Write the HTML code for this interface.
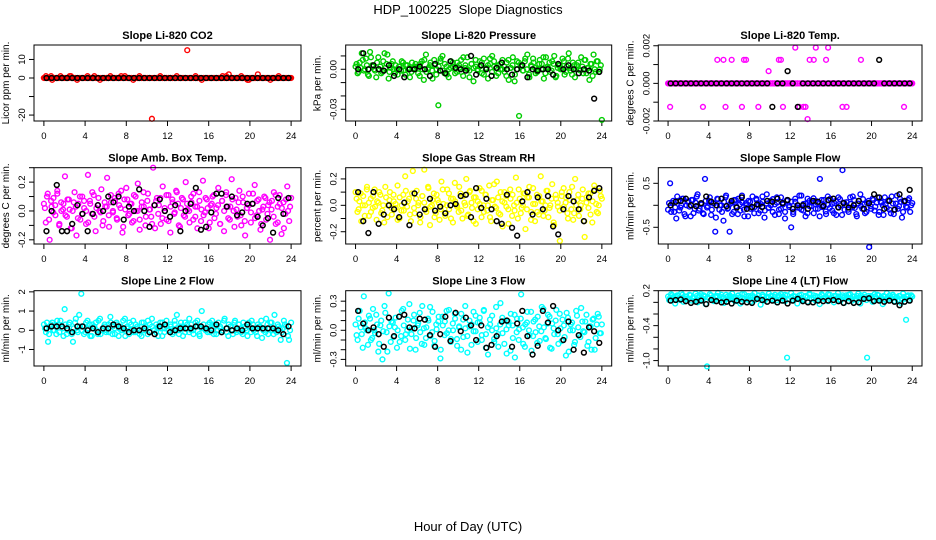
<!DOCTYPE html>
<html><head><meta charset="utf-8">
<style>
html,body{margin:0;padding:0;background:#fff;}
svg{display:block;font-family:"Liberation Sans",Arial,sans-serif;}
</style></head>
<body>
<svg id="chart" width="936" height="540" viewBox="0 0 936 540">
<text x="468" y="14" text-anchor="middle" font-size="13">HDP_100225&#160; Slope Diagnostics</text>
<text x="468" y="531" text-anchor="middle" font-size="13">Hour of Day (UTC)</text>
</svg>
<script>
// ---- data (values in panel-specific units; scale applied below) ----
const xTicks = [0,4,8,12,16,20,24];
const co2Vals = [0,1,0,0,-1,0,0,0,1,0, 0,0,0,1,0,0,-1,0,0,0, 0,1,0,0,0,0,0,-1,0,0, 0,0,1,0,0,0,0,0,0,1, 0,0,0,-1,0,0,1,0,0,0, 0,0,-22,0,0,0,1,0,0,0, 0,0,0,0,0,0,0,0,0,15, 0,0,0,1,0,0,-1,0,0,0, 0,0,0,0,0,0,1,0,0,2, 0,0,0,0,0,1,0,0,-1,0, 0,0,0,2,0,0,0,0,0,-1, 0,0,0,1,0,0,0,0,0,0];
const co2Vals2 = [0,0,0,1,0,0,0,0,0,0, 0,0,1,0,0,0,0,0,0,0, 0,0,0,0,1,0,0,0,0,0, 0,0,0,0,0,0,0,1,0,0, 0,0,0,0,0,0,0,0,0,0, 0,0,0,0,0,0,0,0,0,0, 0,0,0,0,1,0,0,0,0,0, 0,0,0,0,0,0,0,0,0,0, 0,0,0,0,0,0,0,0,1,0, 0,0,0,0,0,0,0,0,0,-1, 0,0,0,0,0,0,0,0,0,0, 0,0,0,0,0,0,0,0,0,0];
const co2Black = [0,0,0,0,0,0,0,0,0,0,0,0,0,0,0,0,0,0,0,0,0,0,0,0,0,0,0,0,0,0,0,0,0,0,0,0,0,0,0,0,0,0,0,0,0,0,0,0];
const presVals = [2,-3,5,12,-1,8,-4,13,3,0, -6,9,2,-2,12,4,-7,1,6,-3, 0,2,-1,5,-4,3,1,-2,0,4, 2,-5,6,-8,11,0,3,-1,7,-4, -27,6,10,-3,2,-6,1,5,0,-2, 3,7,-5,1,9,-1,4,-9,2,0, 6,-3,8,1,-7,4,10,2,-5,3, 0,7,-2,5,-8,1,9,-4,6,-35, 3,-1,8,11,-6,2,5,-3,0,7, 4,-7,9,1,-2,6,10,-5,3,0, 8,-4,2,12,-1,5,-6,3,0,9, -3,7,1,-8,4,11,-2,6,0,-38];
const presVals2 = [4,-2,1,7,0,3,-5,9,2,-1, 5,0,-3,6,1,11,-2,4,0,3, -4,2,6,-1,3,0,-6,5,1,2, -3,4,0,7,-2,1,5,-7,3,0, 2,8,-1,4,-4,0,6,2,-3,5, 1,-2,9,3,0,-6,4,1,7,-1, 2,5,-4,0,3,8,-2,6,1,-3, 4,0,2,-5,7,1,3,-9,0,5, 2,-1,6,0,-4,3,8,1,-2,4, 0,9,-3,2,5,-1,4,-6,1,3, 0,6,-2,8,1,-4,3,0,5,-1, 2,7,-3,1,4,-5,0,6,-2,3];
const presBlack = [0,12,0,3,0,-1,3,-5,0,-6,0,0,2,0,-5,4,-1,-3,6,1,0,-1,10,-4,3,0,-5,1,5,0,-4,0,3,-6,0,-1,0,0,-4,4,0,3,0,-3,0,-1,-22,-2];
const tempVals = [0,-125,0,0,0,0,0,0,0,0, 0,0,0,0,0,0,0,-125,0,0, 0,0,0,0,125,0,0,125,-125,0, 0,125,0,0,0,0,-125,125,125,0, 0,0,0,0,-125,0,0,0,0,65, 0,0,0,0,125,125,-125,0,0,0, 0,0,190,0,-125,0,-125,-125,-190,125, 0,125,190,0,0,0,0,125,190,0, 0,0,0,0,0,-125,0,-125,0,0, 0,0,0,0,125,0,0,0,0,0, 0,0,0,0,0,0,0,0,0,0, 0,0,0,0,0,-125,0,0,0,0];
const tempVals2 = [0,0,0,0,0,0,0,0,0,0, 0,0,0,0,0,0,0,0,0,0, 0,0,0,0,0,0,0,0,0,0, 0,0,0,0,0,0,0,0,0,0, 0,0,0,0,0,0,0,0,0,0, 0,0,0,0,0,0,0,0,0,0, 0,0,0,0,0,0,0,0,0,0, 0,0,0,0,0,0,0,0,0,0, 0,0,0,0,0,0,0,0,0,0, 0,0,0,0,0,0,0,0,0,0, 0,0,0,0,0,0,0,0,0,0, 0,0,0,0,0,0,0,0,0,0];
const tempBlack = [0,0,0,0,0,0,0,0,0,0,0,0,0,0,0,0,0,0,0,0,-125,0,0,65,0,-125,0,0,0,0,0,0,0,0,0,0,0,0,0,0,0,125,0,0,0,0,0,0];
const ambVals = [5,-8,12,-20,3,9,-3,14,-10,6, 1,24,-4,8,-12,0,13,-17,5,-6, 10,2,-9,25,7,-2,11,-14,4,0, 15,-7,3,23,-11,6,-1,9,-5,12, 2,-15,8,16,-3,5,-8,11,0,19, -6,3,13,-10,7,1,-4,30,-12,9, 4,-9,17,2,-6,11,-15,8,-2,14, 5,-11,9,-3,20,1,-8,6,12,-4, 3,13,-7,21,-1,8,-12,4,10,-5, 2,16,-9,7,-14,11,3,-6,22,0, 9,-4,14,-10,6,-17,2,12,-8,5, 18,-3,8,-13,1,10,-6,4,-20,7, 13,-9,3,11,-16,6,-2,17,-7,9];
const ambVals2 = [2,10,-6,7,-1,4,12,-9,0,5, -3,8,1,-12,6,3,-5,10,-2,7, 0,-8,5,13,-4,2,9,-1,-10,6, 3,-3,11,0,7,-6,4,14,-11,1, 8,-2,5,-7,10,0,-13,6,3,-4, 12,1,-9,4,7,-2,9,-5,0,11, -7,3,6,-1,13,-10,2,8,-4,5, 0,10,-6,3,-12,7,1,-3,9,2, -8,5,11,-2,4,-9,7,0,13,-5, 3,8,-11,1,6,-3,10,-7,2,4, -1,12,-5,7,0,-9,3,9,-2,6, 1,-4,11,-8,5,2,-12,8,0,3];
const ambBlack = [-14,0,18,-14,-14,-9,4,-2,-14,-2,4,0,10,6,10,-6,3,0,15,0,-11,4,8,0,-4,4,-14,0,5,16,-13,-11,-1,12,12,3,10,-3,-1,5,5,-4,-10,-5,-15,9,-2,9];
const rhVals = [10,-5,3,-12,7,0,14,-8,5,-2, 12,-11,2,8,-4,-13,6,0,10,-7, 3,-2,15,-10,-4,8,22,-1,5,-12, 26,-6,11,2,-9,7,27,-3,14,-15, 0,9,-6,4,-11,18,1,-8,12,-3, 5,-13,17,0,-5,9,-10,2,20,-7, 11,-2,6,-14,3,13,-9,0,8,-4, 15,-12,4,-1,18,-6,10,-16,2,7, -3,12,-8,0,21,-10,5,-2,9,-18, 6,14,-5,1,-12,8,-7,22,3,-4, 11,-9,0,16,-15,5,-1,-27,7,13, 2,-6,10,-3,-11,20,4,-8,0,12, -24,6,-2,9,-13,15,1,-6,11,5];
const rhVals2 = [5,-3,9,0,-8,12,2,-5,7,-1, 3,10,-6,0,14,-9,4,-2,8,1, -11,6,0,-4,11,3,-7,9,-2,5, 0,-13,7,2,-5,13,-1,4,-9,8, 2,-3,12,-6,0,9,-10,5,3,-1, 14,-4,7,0,-8,10,2,-12,6,-3, 1,11,-5,8,0,-9,4,16,-2,6, -7,3,10,-1,-14,5,8,-4,2,12, -6,0,9,-3,6,-11,13,1,-5,7, 3,-8,0,11,-2,5,-13,8,2,-4, 10,-1,6,-10,4,14,-6,0,8,-3, 5,-12,2,9,-7,3,12,-5,0,7];
const rhBlack = [10,-12,-21,10,-14,-7,0,-3,-9,2,-15,9,-7,-3,5,-4,-1,-6,0,1,7,8,-9,13,-2,5,-3,-12,-14,8,-17,-23,3,10,-7,6,-3,7,-16,-22,-3,7,3,-3,-12,6,11,13];
const sampVals = [-10,50,5,-15,-30,10,-5,15,-20,0, 8,-25,12,-8,20,-12,3,-18,60,-5, 10,-22,5,-60,15,-10,0,-35,18,-8, -60,6,-15,12,-20,2,22,-10,5,-25, 8,-5,-18,15,0,-12,20,-28,4,-6, 10,-15,2,18,-20,-8,6,-30,12,0, -50,-15,8,-5,22,-10,3,-25,15,-2, 6,-18,10,-8,60,-4,12,-20,1,15, -12,5,-22,18,0,80,-10,7,-15,3, 20,-6,-25,10,-2,14,-18,5,-95,-8, 12,-3,18,-15,6,-22,2,10,-10,20, -20,4,-8,15,-28,8,-3,12,-15,5];
const sampVals2 = [5,-15,10,-5,20,-12,0,15,-25,8, -3,12,-18,6,25,-8,2,-20,10,-2, 18,-10,4,-28,14,0,-15,8,22,-6, 3,-20,12,-2,15,-12,6,-25,0,10, -8,20,-4,12,-18,3,8,-12,25,-5, 0,14,-22,6,-10,18,2,-15,10,-4, 8,-20,15,0,-6,22,-12,4,-18,10, -2,16,-8,5,-25,12,0,-14,20,-6, 3,-18,10,-4,14,-22,6,0,-10,18, -5,12,-20,4,25,-8,2,-15,10,-2, 15,-12,6,-22,8,0,18,-6,12,-18, 4,-10,22,-2,8,-15,10,-5,16,0];
const sampBlack = [0,8,10,15,0,-2,5,20,8,0,15,-2,10,-5,18,-8,-4,2,-4,10,8,15,5,12,-8,0,0,-8,10,8,-2,12,15,-5,5,-5,0,10,-8,5,25,18,-8,10,-10,25,10,35];
const l2Vals = [3,-1,-6,2,4,0,-2,3,5,1, 11,-2,3,-1,-6,4,0,8,19,2, -1,5,3,-3,1,4,-2,6,0,2, -1,3,7,-2,1,4,-3,2,0,6, 1,-2,3,5,-1,2,0,-3,4,1, -2,3,6,0,-1,2,4,-3,1,5, 0,2,-1,3,8,-2,4,1,-1,3, 6,0,-2,4,2,-3,10,1,0,3, -1,5,2,-2,4,1,0,6,-1,3, 2,-2,5,0,3,-1,4,1,-3,2, 5,0,-1,3,2,-4,1,6,-2,4, 0,8,-1,2,-5,1,3,-17,-5,4];
const l2Vals2 = [1,4,-2,3,0,2,5,-1,2,-3, 3,0,4,-2,1,6,-1,2,0,-2, 4,1,-3,3,2,0,5,-2,1,3, 0,-1,4,2,-2,3,1,0,5,-3, 2,4,0,-1,3,1,-2,4,0,2, 5,-1,2,0,3,-3,1,4,-1,2, 0,3,-2,5,1,0,2,-3,4,1, -1,3,0,2,5,-2,1,3,0,-1, 4,1,-2,3,0,2,-1,5,1,-3, 2,0,4,-1,3,1,-2,2,0,4, -1,3,1,-3,2,5,0,-1,3,1, 4,-2,0,3,1,-1,5,2,-3,0];
const l2Black = [1,2,2,2,1,-1,2,2,0,1,-1,1,1,3,2,1,-1,0,0,1,-1,-2,2,3,-1,0,1,1,1,2,2,1,0,3,-1,1,0,1,0,3,1,1,1,1,1,0,-2,2];
const l3Vals = [6,-10,20,-4,35,2,-15,12,-8,0, 16,-22,5,-30,25,-2,38,-12,8,3, -18,14,-6,22,-10,0,27,-4,10,-20, 5,18,-14,2,-8,12,24,-2,-16,6, 9,-29,14,-5,20,0,-12,7,17,-9, 3,-20,11,25,-6,4,-15,19,-1,8, 13,-10,21,-4,-25,6,15,-12,2,-17, 28,-3,10,-24,5,17,-8,-28,12,1, 37,-14,6,19,-5,-21,9,-2,14,-11, 24,3,-9,16,-18,7,-4,21,-14,2, 11,-7,18,-22,6,0,-12,15,-5,23, -1,9,-16,4,-20,12,-8,17,-3,6];
const l3Vals2 = [-5,12,3,-18,8,0,15,-10,22,-3, 6,-14,10,-1,18,-22,4,9,-7,13, 0,-12,20,5,-4,11,-19,2,16,-8, 7,-2,25,-15,3,10,-6,19,-11,1, 14,-20,5,9,-3,21,-9,0,12,-16, 4,17,-7,2,-23,10,6,-1,15,-12, 8,-5,20,-18,3,11,0,-9,24,-4, 6,13,-14,1,9,-21,5,16,-2,-10, 12,3,-17,8,0,19,-6,11,-13,4, -1,22,-8,7,14,-19,2,10,-4,17, -11,5,-26,13,0,8,-15,20,3,-7, 9,-2,16,-12,4,11,-20,6,14,-3];
const l3Black = [20,7,0,3,-4,-17,13,-6,14,16,3,2,12,11,-5,-17,-4,14,-11,18,-1,13,5,-10,5,-18,-15,-6,9,10,-17,7,20,-6,-25,-16,20,8,25,0,-10,9,-20,-5,-23,3,-1,-13];
const l4Vals = [10,8,12,5,9,11,4,13,7,10, 6,12,8,3,11,9,14,6,10,-110, 7,12,4,9,11,6,13,8,5,10, 12,7,9,2,11,8,14,6,10,5, 9,12,3,8,11,7,13,5,10,8, 6,11,9,4,12,7,10,13,-95,6, 9,11,5,8,12,7,3,10,9,13, 6,8,11,4,10,12,7,9,14,5, 8,11,6,10,3,12,9,7,13,8, 10,5,11,8,12,6,9,-95,7,11, 4,10,13,6,8,11,5,9,12,7, 10,8,3,11,6,9,-30,12,8,10];
const l4Vals2 = [4,14,9,-2,12,7,16,1,10,6, 13,3,8,15,0,11,5,12,-3,9, 14,7,2,11,16,4,9,-1,13,6, 10,15,3,8,12,-2,7,14,5,11, 1,9,16,6,12,-4,10,3,8,15, 11,5,13,0,9,14,7,2,12,6, 16,4,10,-2,8,13,5,11,1,15, 7,12,3,9,-3,14,6,10,2,13, 8,0,11,16,5,9,-1,12,7,14, 3,10,6,15,-2,8,13,4,11,9, 1,14,7,12,5,-3,10,16,6,8, 13,2,9,11,-1,15,6,10,4,12];
const l4Black = [3,4,5,2,-1,1,3,-3,4,2,0,1,-2,3,1,0,-1,6,4,1,3,0,3,-2,3,6,2,0,0,3,2,3,4,2,-1,2,-1,0,6,7,2,3,1,3,1,-5,1,3];
const panelTitles = ["Slope Li-820 CO2","Slope Li-820 Pressure","Slope Li-820 Temp.","Slope Amb. Box Temp.","Slope Gas Stream RH","Slope Sample Flow","Slope Line 2 Flow","Slope Line 3 Flow","Slope Line 4 (LT) Flow"];
const yTitles = ["Licor ppm per min.","kPa per min.","degrees C per min.","degrees C per min.","percent per min.","ml/min per min.","ml/min per min.","ml/min per min.","ml/min per min."];
const yTickVals = [[-20,-10,0,10],[-0.03,-0.02,-0.01,0,0.01],[-0.002,-0.001,0,0.001,0.002],[-0.2,-0.1,0,0.1,0.2,0.3],[-0.2,-0.1,0,0.1,0.2],[-0.5,0,0.5],[-1,0,1,2],[-0.3,-0.2,-0.1,0,0.1,0.2,0.3],[-1.0,-0.8,-0.6,-0.4,-0.2,0,0.2]];
const yTickLabels = [["-20","","0","10"],["-0.03","","","0.00",""],["-0.002","","0.000","","0.002"],["-0.2","","0.0","","0.2",""],["-0.2","","0.0","","0.2"],["-0.5","","0.5"],["-1","0","1","2"],["-0.3","","","0.0","","","0.3"],["-1.0","","","-0.4","","","0.2"]];

// ---- layout ----
const NS="http://www.w3.org/2000/svg";
const svg=document.getElementById('chart');
const colL=[34,345.7,658.3], colW=[267,266,263.7];
const rowT=[45,167.7,290.7], rowB=[121,244,366];
const panels=[
 {vals:co2Vals,vals2:co2Vals2,blk:co2Black,scale:1,dom:[-23.2,17.8],col:"#ff0000"},
 {vals:presVals,vals2:presVals2,blk:presBlack,scale:0.001,dom:[-0.0388,0.0182],col:"#00cd00"},
 {vals:tempVals,vals2:tempVals2,blk:tempBlack,scale:0.00001,dom:[-0.0020,0.00204],col:"#ff00ff"},
 {vals:ambVals,vals2:ambVals2,blk:ambBlack,scale:0.01,dom:[-0.229,0.30],col:"#ff00ff"},
 {vals:rhVals,vals2:rhVals2,blk:rhBlack,scale:0.01,dom:[-0.293,0.285],col:"#ffff00"},
 {vals:sampVals,vals2:sampVals2,blk:sampBlack,scale:0.01,dom:[-0.88,0.855],col:"#0000ff"},
 {vals:l2Vals,vals2:l2Vals2,blk:l2Black,scale:0.1,dom:[-1.86,2.06],col:"#00ffff"},
 {vals:l3Vals,vals2:l3Vals2,blk:l3Black,scale:0.01,dom:[-0.368,0.408],col:"#00ffff"},
 {vals:l4Vals,vals2:l4Vals2,blk:l4Black,scale:0.01,dom:[-1.093,0.2],col:"#00ffff"}
];
function mk(tag,attrs,parent){const e=document.createElementNS(NS,tag);for(const k in attrs)e.setAttribute(k,attrs[k]);(parent||svg).appendChild(e);return e;}

panels.forEach((p,k)=>{
  const r=Math.floor(k/3), c=k%3;
  const L=colL[c], W=colW[c], T=rowT[r], B=rowB[r];
  const g=mk('g',{});
  
  
  const xs=h=>L+(h+0.96)/(25.92)*W;
  const ys=v=>B-(v-p.dom[0])/(p.dom[1]-p.dom[0])*(B-T);
  const t=mk('text',{x:L+W/2,y:T-6,'text-anchor':'middle','font-size':'11','font-weight':'bold'},g);
  t.textContent=panelTitles[k];
  
  
  const yt=mk('text',{transform:`translate(${L-25},${(T+B)/2}) rotate(-90)`,'text-anchor':'middle','font-size':'10'},g);
  yt.textContent=yTitles[k];
  
  
  const xa=mk('g',{},g);
  
  
  xTicks.forEach(h=>{
    mk('line',{x1:xs(h),x2:xs(h),y1:B,y2:B+5,stroke:'#000','stroke-width':1},xa);
    const tl=mk('text',{x:xs(h),y:B+18,'text-anchor':'middle','font-size':'9.5'},xa);
    tl.textContent=String(h);
    
    
  });
  const ya=mk('g',{},g);
  
  
  const tv=yTickVals[k];
  tv.forEach((v,i)=>{
    mk('line',{x1:L,x2:L-5,y1:ys(v),y2:ys(v),stroke:'#000','stroke-width':1},ya);
    if(yTickLabels[k][i]){
      const yl=mk('text',{transform:`translate(${L-9},${ys(v)}) rotate(-90)`,'text-anchor':'middle','font-size':'9.5'},ya);
      yl.textContent=yTickLabels[k][i];
      
      
    }
  });
  const pc=mk('g',{fill:'none',stroke:p.col,'stroke-width':1.4},g);
  
  
  const n=p.vals.length;
  p.vals.forEach((v,i)=>{
    const pt=mk('circle',{cx:xs(i*24/(n-1)),cy:ys(v*p.scale),r:2.4},pc);
    
    
  });
  const n2=p.vals2.length;
  p.vals2.forEach((v,i)=>{
    const pt=mk('circle',{cx:xs((i+0.5)*24/n2),cy:ys(v*p.scale),r:2.4},pc);
    
    
  });
  const pb=mk('g',{fill:'none',stroke:'#000','stroke-width':1.5},g);
  
  
  const m=p.blk.length;
  p.blk.forEach((v,i)=>{
    const pt=mk('circle',{cx:xs(0.25+i*23.5/(m-1)),cy:ys(v*p.scale),r:2.4},pb);
    
    
  });
  const bx=mk('rect',{x:L,y:T,width:W,height:B-T,fill:'none',stroke:'#000','stroke-width':1},g);
  
  
});
</script>
</body></html>
